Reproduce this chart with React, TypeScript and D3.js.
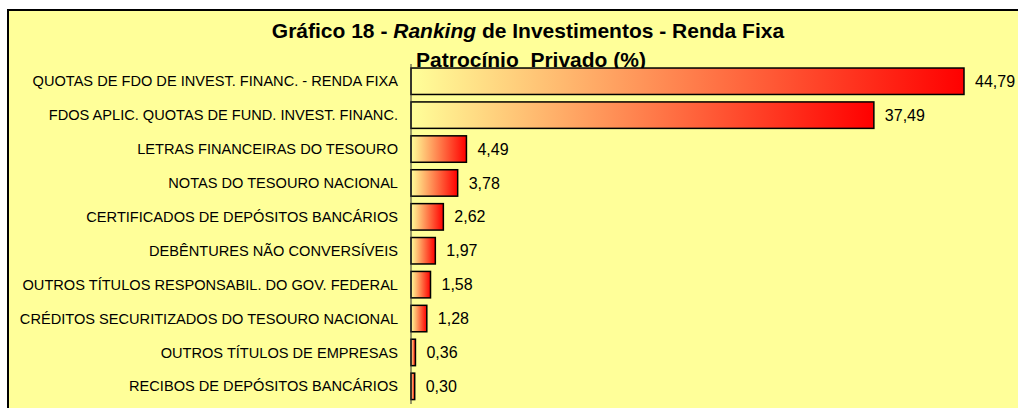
import React from "react";
import * as d3 from "d3";

const categories = [
  "QUOTAS DE FDO DE INVEST. FINANC. - RENDA FIXA",
  "FDOS APLIC. QUOTAS DE FUND. INVEST. FINANC.",
  "LETRAS FINANCEIRAS DO TESOURO",
  "NOTAS DO TESOURO NACIONAL",
  "CERTIFICADOS DE DEPÓSITOS BANCÁRIOS",
  "DEBÊNTURES NÃO CONVERSÍVEIS",
  "OUTROS TÍTULOS RESPONSABIL. DO GOV. FEDERAL",
  "CRÉDITOS SECURITIZADOS DO TESOURO NACIONAL",
  "OUTROS TÍTULOS DE EMPRESAS",
  "RECIBOS DE DEPÓSITOS BANCÁRIOS",
];
const values = [44.79, 37.49, 4.49, 3.78, 2.62, 1.97, 1.58, 1.28, 0.36, 0.3];

const W = 1018;
const H = 408;

export default function App() {
  const x = d3.scaleLinear().domain([0, 44.79]).range([411, 964]);
  const y = d3
    .scaleBand<string>()
    .domain(categories)
    .range([64.3, 403.3])
    .paddingInner(0.22)
    .paddingOuter(0.11);
  const fmt = (v: number) => d3.format(".2f")(v).replace(".", ",");
  const font = "Arial, 'Liberation Sans', sans-serif";

  return (
    <svg
      width={W}
      height={H}
      style={{ position: "absolute", left: 0, top: 0, background: "#fff" }}
      fontFamily={font}
    >
      <defs>
        <linearGradient id="barGrad" x1="0" y1="0" x2="1" y2="0">
          <stop offset="0%" stopColor="#FFFF99" />
          <stop offset="100%" stopColor="#FF0000" />
        </linearGradient>
      </defs>
      <rect x={8} y={10} width={W + 20} height={H + 20} fill="#FFFF99" stroke="#000" strokeWidth={2} />
      <text x={528} y={38} textAnchor="middle" fontSize={21} fontWeight="bold" fill="#000">
        <tspan>Gráfico 18 - </tspan>
        <tspan fontStyle="italic">Ranking</tspan>
        <tspan> de Investimentos - Renda Fixa</tspan>
      </text>
      <text x={531} y={67} textAnchor="middle" fontSize={21} fontWeight="bold" fill="#000" xmlSpace="preserve">
        Patrocínio  Privado (%)
      </text>
      {categories.map((c, i) => {
        const by = y(c)!;
        const bh = y.bandwidth();
        const v = values[i];
        return (
          <g key={c}>
            <rect
              x={x(0)}
              y={by}
              width={x(v) - x(0)}
              height={bh}
              fill="url(#barGrad)"
              stroke="#000"
              strokeWidth={1.5}
            />
            <text x={398} y={by + bh / 2} dy="0.35em" textAnchor="end" fontSize={14.6} fill="#000">
              {c}
            </text>
            <text x={x(v) + 11} y={by + bh / 2} dy="0.35em" fontSize={16} fill="#000">
              {fmt(v)}
            </text>
          </g>
        );
      })}
      <line x1={x(0)} x2={x(0)} y1={64} y2={404} stroke="#333" strokeWidth={1} />
    </svg>
  );
}
